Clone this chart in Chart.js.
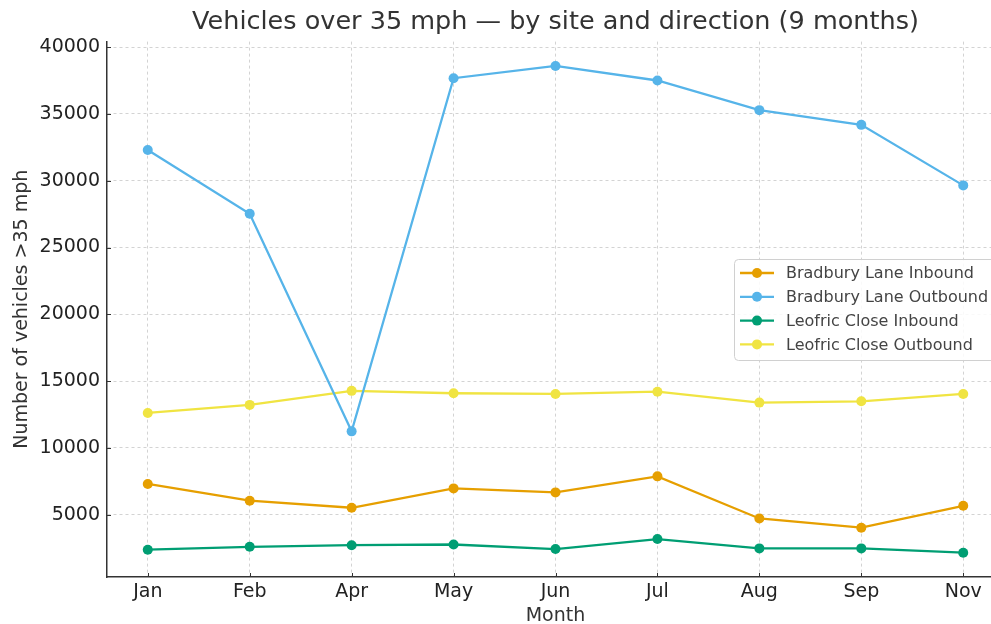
<!DOCTYPE html>
<html>
<head>
<meta charset="utf-8">
<title>Vehicles over 35 mph</title>
<script src="https://cdn.jsdelivr.net/npm/chart.js@4.4.1/dist/chart.umd.min.js"></script>
<style>
  html, body { margin: 0; padding: 0; background: #fff; overflow: hidden; }
  #wrap { position: absolute; left: 0; top: 0; width: 1030px; height: 624px; }
</style>
</head>
<body>
<div id="wrap"><canvas id="speedChart"></canvas></div>
<script>
const months = ['Jan', 'Feb', 'Apr', 'May', 'Jun', 'Jul', 'Aug', 'Sep', 'Nov'];
const bradburyInbound = [7300, 6050, 5520, 6970, 6670, 7870, 4720, 4030, 5670];
const bradburyOutbound = [32300, 27530, 11240, 37670, 38590, 37500, 35280, 34180, 29650];
const leofricInbound = [2380, 2600, 2720, 2770, 2430, 3180, 2480, 2480, 2160];
const leofricOutbound = [12620, 13220, 14270, 14090, 14040, 14210, 13390, 13490, 14040];
const yTicks = [5000, 10000, 15000, 20000, 25000, 30000, 35000, 40000];

const FONT = "'DejaVu Sans', sans-serif";

// matplotlib style 5% margins around the data
const allValues = bradburyInbound.concat(bradburyOutbound, leofricInbound, leofricOutbound);
const dataMin = Math.min(...allValues);
const dataMax = Math.max(...allValues);
const pad = (dataMax - dataMin) * 0.05;

function toPoints(values) {
    return values.map((v, i) => ({ x: i, y: v }));
}

function series(label, values, color) {
    return {
        label: label,
        data: toPoints(values),
        borderColor: color,
        backgroundColor: color,
        borderWidth: 2.3,
        pointRadius: 5,
        pointBorderWidth: 0,
        pointBackgroundColor: color,
        tension: 0
    };
}

// legend drawn inside the plot, like the original
const innerLegend = {
    id: 'innerLegend',
    afterDraw(chart) {
        const ctx = chart.ctx;
        const x0 = 734, y0 = 259, w = 280, h = 101;
        ctx.save();
        ctx.beginPath();
        ctx.roundRect(x0 + 0.5, y0 + 0.5, w, h, 4);
        ctx.fillStyle = 'rgba(255,255,255,0.85)';
        ctx.fill();
        ctx.strokeStyle = '#d0d0d0';
        ctx.lineWidth = 1;
        ctx.stroke();
        ctx.font = '16px ' + FONT;
        ctx.textBaseline = 'middle';
        chart.data.datasets.forEach((ds, i) => {
            const y = y0 + 14 + i * 23.8;
            ctx.strokeStyle = ds.borderColor;
            ctx.lineWidth = 2.3;
            ctx.beginPath();
            ctx.moveTo(740, y);
            ctx.lineTo(774, y);
            ctx.stroke();
            ctx.fillStyle = ds.borderColor;
            ctx.beginPath();
            ctx.arc(757, y, 5, 0, Math.PI * 2);
            ctx.fill();
            ctx.fillStyle = '#444';
            ctx.fillText(ds.label, 786, y + 1);
        });
        ctx.restore();
    }
};

// short inward tick marks on both axes
const innerTicks = {
    id: 'innerTicks',
    afterDatasetsDraw(chart) {
        const ctx = chart.ctx;
        const area = chart.chartArea;
        const xs = chart.scales.x, ys = chart.scales.y;
        ctx.save();
        ctx.strokeStyle = '#333';
        ctx.lineWidth = 1;
        xs.ticks.forEach(t => {
            const px = Math.round(xs.getPixelForValue(t.value)) + 0.5;
            ctx.beginPath();
            ctx.moveTo(px, area.bottom);
            ctx.lineTo(px, area.bottom - 4);
            ctx.stroke();
        });
        ys.ticks.forEach(t => {
            const py = Math.round(ys.getPixelForValue(t.value)) + 0.5;
            ctx.beginPath();
            ctx.moveTo(area.left, py);
            ctx.lineTo(area.left + 4, py);
            ctx.stroke();
        });
        ctx.restore();
    }
};

const ctx = document.getElementById('speedChart').getContext('2d');
new Chart(ctx, {
    type: 'line',
    data: {
        datasets: [
            series('Bradbury Lane Inbound', bradburyInbound, '#E69F00'),
            series('Bradbury Lane Outbound', bradburyOutbound, '#56B4E9'),
            series('Leofric Close Inbound', leofricInbound, '#009E73'),
            series('Leofric Close Outbound', leofricOutbound, '#F0E442')
        ]
    },
    options: {
        responsive: true,
        maintainAspectRatio: false,
        animation: false,
        layout: { padding: { left: 0, right: 26, top: 0, bottom: 0 } },
        plugins: {
            legend: { display: false },
            tooltip: { enabled: false },
            title: {
                display: true,
                fullSize: false,
                text: 'Vehicles over 35 mph \u2014 by site and direction (9 months)',
                color: '#333',
                font: { family: FONT, size: 25.5, weight: 'normal' },
                padding: { top: 7, bottom: 4 }
            }
        },
        scales: {
            x: {
                type: 'linear',
                min: -0.4,
                max: months.length - 1 + 0.4,
                afterBuildTicks(scale) {
                    scale.ticks = months.map((m, i) => ({ value: i }));
                },
                afterFit(scale) { scale.height = 47; },
                ticks: {
                    callback: (v) => months[v],
                    color: '#222',
                    font: { family: FONT, size: 19 },
                    padding: 4,
                    maxRotation: 0,
                    autoSkip: false
                },
                grid: { color: '#cfcfcf', lineWidth: 0.9, drawTicks: false },
                border: { display: true, color: '#333', width: 1.5, dash: [3, 3] },
                title: {
                    display: true,
                    text: 'Month',
                    color: '#333',
                    font: { family: FONT, size: 19 },
                    padding: { top: 0, bottom: -3 }
                }
            },
            y: {
                min: dataMin - pad,
                max: dataMax + pad,
                afterBuildTicks(scale) {
                    scale.ticks = yTicks.map(v => ({ value: v }));
                },
                afterFit(scale) { scale.width = 107; },
                ticks: {
                    color: '#222',
                    font: { family: FONT, size: 19 },
                    padding: 7,
                    callback: (v) => String(v)
                },
                grid: { color: '#cfcfcf', lineWidth: 0.9, drawTicks: false },
                border: { display: true, color: '#333', width: 1.5, dash: [3, 3] },
                title: {
                    display: true,
                    text: 'Number of vehicles >35 mph',
                    color: '#333',
                    font: { family: FONT, size: 19 },
                    padding: { top: 11, bottom: 0 }
                }
            }
        }
    },
    plugins: [innerTicks, innerLegend]
});
</script>
</body>
</html>
